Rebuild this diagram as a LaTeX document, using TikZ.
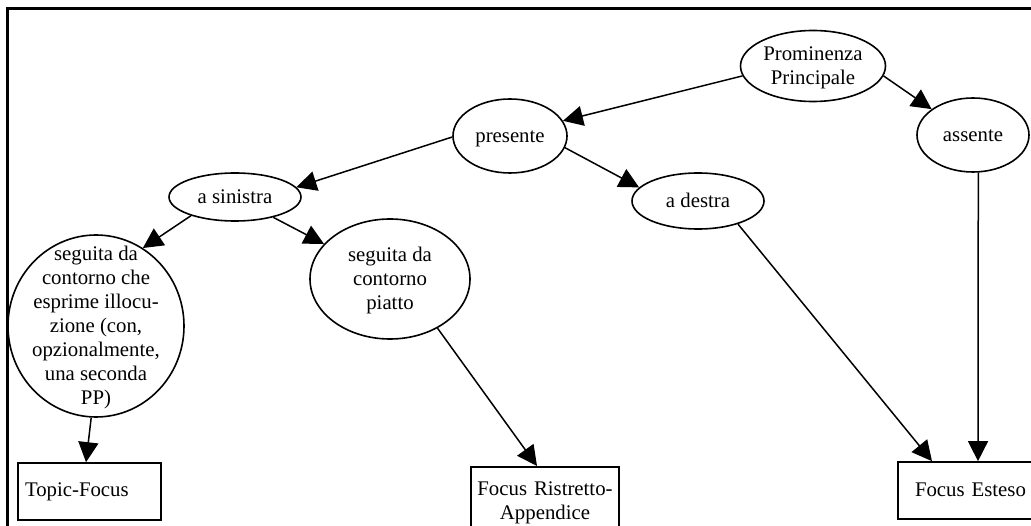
\documentclass[tikz,border=0pt]{standalone}
\usepackage{fontspec}
\setmainfont{Liberation Serif}
\usetikzlibrary{shapes.geometric,arrows.meta,calc}
\newcommand{\zc}[1]{\makebox[0pt]{\smash{\raisebox{-7pt}{$\vcenter{\hbox{\begin{tabular}{@{}c@{}}#1\end{tabular}}}$}}}}
\begin{document}
\begin{tikzpicture}[x=1pt,y=1pt,
  every node/.style={font=\fontsize{20.8}{24}\selectfont, inner sep=0pt},
  oval/.style={ellipse, draw, line width=1.6pt},
  outbox/.style={rectangle, draw, line width=1.7pt},
  conn/.style={line width=1.5pt, -{Triangle[length=20pt,width=20pt]}}]
\useasboundingbox (0,0) rectangle (1031,-526);
\clip (0,0) rectangle (1031,-526);
\draw[line width=2.2pt] (7.5,-530) -- (7.5,-8.5) -- (1040,-8.5);

\node[oval, minimum width=145pt, minimum height=71pt] (prom) at (813,-66) {\zc{Prominenza\\Principale}};
\node[oval, minimum width=114pt, minimum height=74pt] (pres) at (510,-136) {\zc{presente}};
\node[oval, minimum width=112pt, minimum height=74pt] (ass) at (973,-135) {\zc{assente}};
\node[oval, minimum width=132pt, minimum height=48pt] (sin) at (235,-197) {\zc{a sinistra}};
\node[oval, minimum width=132pt, minimum height=56pt] (des) at (698,-201) {\zc{a destra}};
\node[oval, minimum width=160pt, minimum height=120pt] (piat) at (390,-279) {\zc{seguita da\\contorno\\piatto}};
\node[oval, minimum width=176pt, minimum height=182pt] (ill) at (96,-326) {\zc{seguita da\\contorno che\\esprime illocu-\\zione (con,\\opzionalmente,\\una seconda\\PP)}};

\node[outbox, minimum width=143pt, minimum height=57pt, text width=129pt, align=left, inner xsep=7pt] (tf) at (89.5,-491.5) {\raisebox{2pt}{Topic-Focus}};
\node[outbox, minimum width=148pt, minimum height=68pt, text width=146pt, align=center, anchor=north] (fr) at (545,-466) {\strut Focus Ristretto-\\Appendice};
\node[outbox, minimum width=150pt, minimum height=57pt, text width=150pt, align=left] (fe) at (973,-490.5) {\hspace*{17pt}\raisebox{2pt}{Focus Esteso}};

\draw[conn] (prom.188.7) -- (pres.16.8);
\draw[conn] (prom.352.6) -- (ass.148);
\draw[conn] (pres.181) -- (sin.9.2);
\draw[conn] (pres.348) -- (des.167);
\draw[conn] (sin.203) -- (ill.59.5);
\draw[conn] (sin.332) -- (piat.152.4);
\draw[conn] (ill.267) -- ($(tf.north)+(-3.5,0)$);
\draw[conn] (piat.314) -- ($(fr.north)+(-8,0)$);
\draw[conn] (des.330) -- ($(fe.north)+(-41,0)$);
\draw[conn] (ass.278) -- ($(fe.north)+(5,0)$);
\end{tikzpicture}
\end{document}
